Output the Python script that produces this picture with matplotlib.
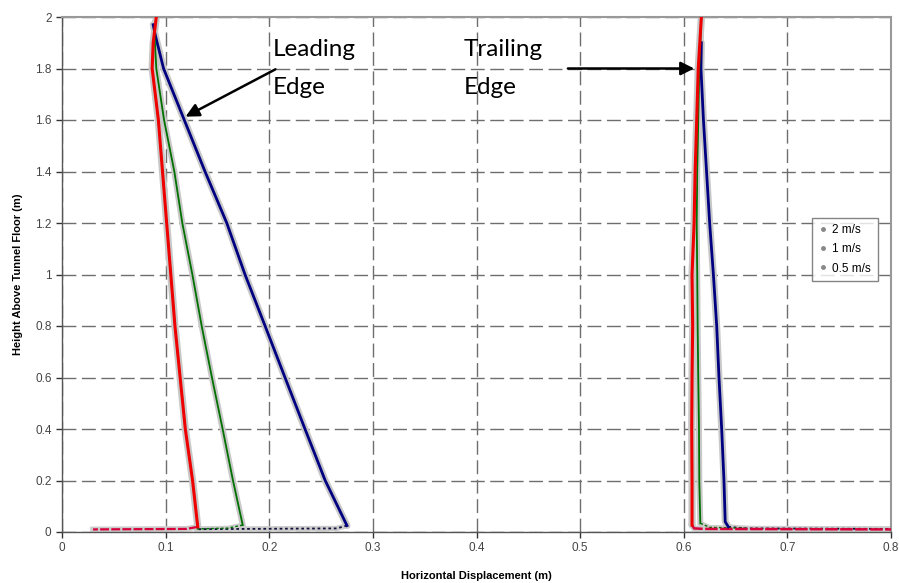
import matplotlib
matplotlib.use("Agg")
import matplotlib.pyplot as plt
from matplotlib.lines import Line2D

# ================= DATOS =================
# 2 m/s (azul marino)
lead_2_x = [0.088, 0.090, 0.098, 0.118, 0.138, 0.159, 0.1766, 0.196, 0.2152, 0.2345, 0.254, 0.275]
lead_2_y = [1.97, 1.93, 1.80, 1.60, 1.40, 1.20, 1.00, 0.80, 0.60, 0.40, 0.20, 0.025]
trail_2_x = [0.617, 0.6166, 0.619, 0.622, 0.625, 0.6286, 0.6318, 0.634, 0.6366, 0.6388, 0.640, 0.643]
trail_2_y = [1.90, 1.80, 1.60, 1.40, 1.20, 1.00, 0.80, 0.60, 0.40, 0.20, 0.04, 0.02]
ground_2_x = [0.275, 0.265, 0.13]
ground_2_y = [0.025, 0.014, 0.011]
ground_2t_x = [0.643, 0.66, 0.80]
ground_2t_y = [0.02, 0.014, 0.012]

# 1 m/s (verde)
lead_1_x = [0.089, 0.091, 0.0985, 0.1084, 0.1161, 0.1258, 0.1348, 0.1447, 0.155, 0.165, 0.1744]
lead_1_y = [1.95, 1.80, 1.60, 1.40, 1.20, 1.00, 0.80, 0.60, 0.40, 0.20, 0.027]
trail_1_x = [0.617, 0.615, 0.614, 0.613, 0.6125, 0.613, 0.6134, 0.614, 0.6147, 0.615, 0.616]
trail_1_y = [2.00, 1.80, 1.60, 1.40, 1.20, 1.00, 0.80, 0.60, 0.40, 0.20, 0.034]
ground_1_x = [0.1744, 0.16, 0.13]
ground_1_y = [0.027, 0.015, 0.012]
ground_1t_x = [0.616, 0.625, 0.66]
ground_1t_y = [0.034, 0.018, 0.015]

# 0.5 m/s (rojo)
lead_05_x = [0.091, 0.088, 0.087, 0.093, 0.097, 0.101, 0.105, 0.109, 0.114, 0.119, 0.126, 0.131]
lead_05_y = [2.00, 1.90, 1.80, 1.60, 1.40, 1.20, 1.00, 0.80, 0.60, 0.40, 0.20, 0.02]
trail_05_x = [0.617, 0.614, 0.6125, 0.611, 0.610, 0.608, 0.6086, 0.608, 0.6077, 0.608, 0.608]
trail_05_y = [2.00, 1.80, 1.60, 1.40, 1.20, 1.00, 0.80, 0.60, 0.40, 0.20, 0.027]
ground_05_x = [0.131, 0.12, 0.03]
ground_05_y = [0.02, 0.012, 0.01]
ground_05t_x = [0.608, 0.61, 0.62, 0.80]
ground_05t_y = [0.027, 0.014, 0.012, 0.01]

series = [
    ("2 m/s", lead_2_x, lead_2_y, trail_2_x, trail_2_y, "#000080", 2.0),
    ("1 m/s", lead_1_x, lead_1_y, trail_1_x, trail_1_y, "#007000", 1.3),
    ("0.5 m/s", lead_05_x, lead_05_y, trail_05_x, trail_05_y, "#ee0000", 2.2),
]
grounds = [
    (ground_2_x, ground_2_y, "#10103a", 1.3, (0, (1.5, 1.5))),
    (ground_2t_x, ground_2t_y, "#10103a", 1.3, (0, (1.5, 1.5))),
    (ground_1_x, ground_1_y, "#007000", 1.0, (0, (2, 1.5))),
    (ground_1t_x, ground_1t_y, "#007000", 1.0, (0, (2, 1.5))),
    (ground_05_x, ground_05_y, "#d8003a", 1.6, (0, (4, 1))),
    (ground_05t_x, ground_05t_y, "#d8003a", 1.8, (0, (5, 1))),
]

x_ticks = [0, 0.1, 0.2, 0.3, 0.4, 0.5, 0.6, 0.7, 0.8]
y_ticks = [0, 0.2, 0.4, 0.6, 0.8, 1, 1.2, 1.4, 1.6, 1.8, 2]
x_tick_labels = ["0", "0.1", "0.2", "0.3", "0.4", "0.5", "0.6", "0.7", "0.8"]
y_tick_labels = ["0", "0.2", "0.4", "0.6", "0.8", "1", "1.2", "1.4", "1.6", "1.8", "2"]

# ================= GRAFICA =================
plt.rcParams["font.family"] = ["Liberation Sans", "DejaVu Sans"]

fig = plt.figure(figsize=(8.99, 5.83), dpi=100)
ax = fig.add_axes([62 / 899, 1 - 532 / 583, 829 / 899, 515 / 583])

ax.set_xlim(0, 0.8)
ax.set_ylim(0, 2)
ax.set_xticks(x_ticks)
ax.set_xticklabels(x_tick_labels)
ax.set_yticks(y_ticks)
ax.set_yticklabels(y_tick_labels)
ax.tick_params(labelsize=8.5, colors="#333333", direction="out", length=4, width=1)
ax.tick_params(axis="both", labelcolor="#444444")

ax.grid(True, color="#6e6e6e", linestyle=(0, (10, 4)), linewidth=1.0)
ax.set_axisbelow(True)

for s in ["left", "bottom"]:
    ax.spines[s].set_color("#555555")
    ax.spines[s].set_linewidth(1.0)
for s in ["top", "right"]:
    ax.spines[s].set_color("#999999")
    ax.spines[s].set_linewidth(1.5)

for gx, gy, color, lw, ls in grounds:
    ax.plot(gx, gy, color="#cccccc", lw=lw + 2.5, zorder=2)
    ax.plot(gx, gy, color=color, lw=lw, linestyle=ls, zorder=3)

for nombre, lx, ly, tx, ty, color, lw in series:
    # halo gris claro bajo la curva, como la nube de puntos del original
    ax.plot(lx, ly, color="#c8c8c8", lw=lw + 3, solid_capstyle="round", zorder=2)
    ax.plot(tx, ty, color="#c8c8c8", lw=lw + 3, solid_capstyle="round", zorder=2)
    ax.plot(lx, ly, color=color, lw=lw, zorder=3)
    ax.plot(tx, ty, color=color, lw=lw, zorder=3)

ax.set_xlabel("Horizontal Displacement (m)", fontsize=8, fontweight="bold", labelpad=12)
ax.set_ylabel("Height Above Tunnel Floor (m)", fontsize=8, fontweight="bold", labelpad=9)

# Anotaciones
ax.text(0.2035, 1.915, "Leading\nEdge", fontsize=17.5, family=["Lato", "DejaVu Sans"],
        va="top", ha="left", linespacing=2.0, zorder=5)
ax.annotate("", xy=(0.1168, 1.608), xytext=(0.2084, 1.802),
            arrowprops=dict(arrowstyle="-|>", color="black", lw=1.8, mutation_scale=20), zorder=5)
ax.text(0.388, 1.915, "Trailing\nEdge", fontsize=17.5, family=["Lato", "DejaVu Sans"],
        va="top", ha="left", linespacing=2.0, zorder=5)
ax.annotate("", xy=(0.6128, 1.80), xytext=(0.4855, 1.80),
            arrowprops=dict(arrowstyle="-|>", color="black", lw=1.8, mutation_scale=20), zorder=5)

# Leyenda
handles = [Line2D([], [], linestyle="none", marker="o", markersize=2.5,
                  markerfacecolor="#888888", markeredgecolor="#888888", label=n)
           for n, *_ in series]
leg = ax.legend(handles=handles, loc="upper left", bbox_to_anchor=(0.905, 0.61),
                fontsize=8.5, frameon=True, fancybox=False, handlelength=0.8,
                handletextpad=0.35, borderpad=0.55, labelspacing=0.6, borderaxespad=0)
leg.get_frame().set_edgecolor("#666666")
leg.get_frame().set_linewidth(1.0)

fig.savefig("out.png", dpi=100)
